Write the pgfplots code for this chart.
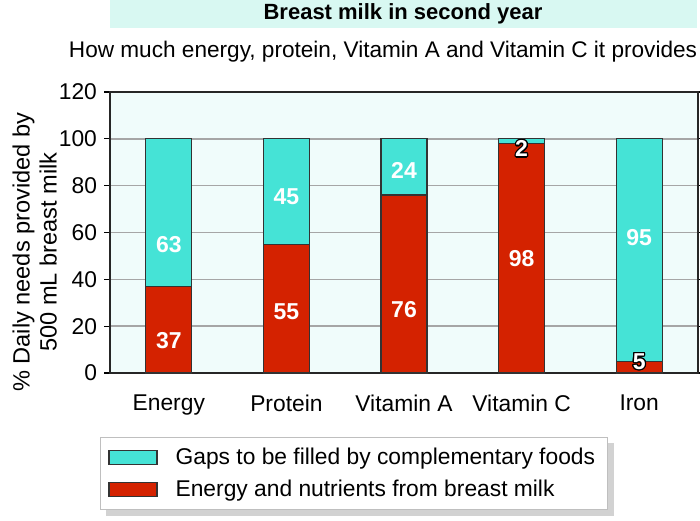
\documentclass[border=0pt]{standalone}
\usepackage{pgfplots}
\pgfplotsset{compat=1.18}
\usepackage{fontspec}
\setmainfont{Liberation Sans}
\usepackage{contour}
\contourlength{0.6pt}
\pgfdeclarelayer{bgl}
\pgfsetlayers{bgl,main}
\definecolor{cy}{HTML}{45E3D6}
\definecolor{rd}{HTML}{D42200}
\definecolor{bg}{HTML}{F0FCFB}
\definecolor{tbox}{HTML}{D8F8F2}
\begin{document}
\begin{tikzpicture}
\path[use as bounding box] (0,0) rectangle (350pt,-260pt);
\fill[tbox] (55pt,0) rectangle (348.5pt,-14pt);
\node[font=\fontsize{11}{13}\selectfont\bfseries] at (201.5pt,-7pt) {Breast milk in second year};
\node[font=\fontsize{11.3}{13}\selectfont] at (191.5pt,-26pt) {How much energy, protein, Vitamin A and Vitamin C it provides};
\begin{axis}[
  at={(55pt,-186.5pt)}, anchor=south west,
  scale only axis, width=294pt, height=140.5pt,
  ybar stacked, bar width=23pt,
  xmin=-0.5, xmax=4.5, ymin=0, ymax=120,
  xtick={0,1,2,3,4}, xticklabels={Energy,Protein,Vitamin A,Vitamin C,Iron},
  extra x ticks={-0.5,0.5,1.5,2.5,3.5,4.5}, extra x tick labels={},
  extra x tick style={major tick length=3.5pt, tick style={black, line width=0.6pt}, tick align=outside},
  x tick label style={font=\fontsize{11.4}{13}\selectfont, yshift=-4.5pt},
  major x tick style={draw=none},
  ytick={0,20,...,120},
  /pgf/number format/assume math mode=true,
  y tick label style={font=\fontsize{11.4}{13}\selectfont},
  ymajorgrids, grid style={gray!70, line width=0.8pt},
  tick align=outside, major tick length=3pt,
  ytick style={black, line width=0.6pt},
  axis background/.style={fill=bg},
  axis line style={black!85, line width=0.7pt},
  ylabel={\% Daily needs provided by\\500 mL breast milk},
  ylabel style={align=center, font=\fontsize{11.8}{13.5}\selectfont, at={(axis description cs:-0.128,0.43)}, anchor=center},
  legend style={name=leg, at={(axis description cs:-0.017,-0.228)}, anchor=north west, draw=gray!50, fill=white,
     font=\fontsize{11.4}{13.5}\selectfont, row sep=2.5pt, column sep=7pt, inner xsep=4pt, inner ysep=3pt},
  legend cell align=left,
  reverse legend,
]
\addplot[fill=rd, draw=black!80, line width=0.6pt,
  legend image code/.code={\draw[fill=rd, draw=black!80] (0pt,-3.5pt) rectangle (24pt,3.5pt);}]
  coordinates {(0,37) (1,55) (2,76) (3,98) (4,5)};
\addplot[fill=cy, draw=black!80, line width=0.6pt,
  legend image code/.code={\draw[fill=cy, draw=black!80] (0pt,-3.5pt) rectangle (24pt,3.5pt);}]
  coordinates {(0,63) (1,45) (2,24) (3,2) (4,95)};
\legend{Energy and nutrients from breast milk, Gaps to be filled by complementary foods}
\end{axis}
\begin{pgfonlayer}{bgl}
\fill[gray!35] ([shift={(3pt,-3pt)}]leg.south west) rectangle ([shift={(3pt,-3pt)}]leg.north east);
\end{pgfonlayer}
\begin{axis}[
  at={(55pt,-186.5pt)}, anchor=south west,
  scale only axis, width=294pt, height=140.5pt,
  xmin=-0.5, xmax=4.5, ymin=0, ymax=120, hide axis,
  nodes near coords, point meta=explicit symbolic,
  every node near coord/.style={anchor=center, font=\fontsize{11.5}{13}\selectfont\bfseries, text=white},
]
\addplot[only marks, mark=none] table[meta=l] {
x y l
0 55 63
0 14 37
1 75.5 45
1 26 55
2 86.6 24
2 27 76
3 49 98
4 58 95
};
\addplot[only marks, mark=none, nodes near coords={\contour{black}{\textcolor{white}{\pgfplotspointmeta}}}] table[meta=l] {
x y l
3 95.5 2
4 4.7 5
};
\end{axis}
\end{tikzpicture}
\end{document}
